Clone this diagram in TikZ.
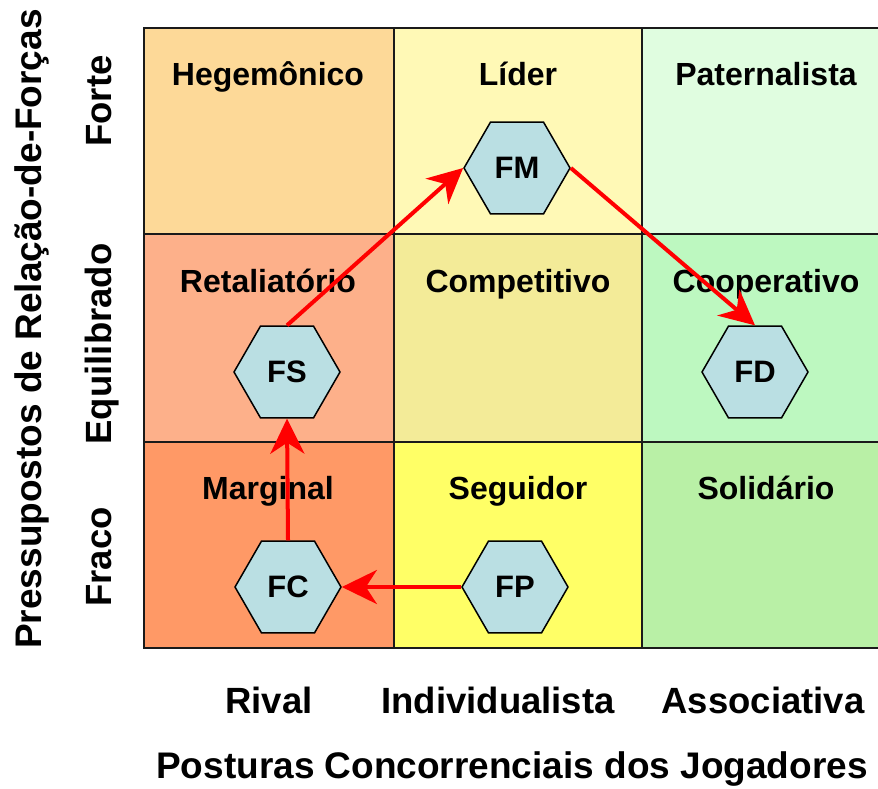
\documentclass[tikz,border=0pt]{standalone}
\usepackage{fontspec}
\setmainfont{Liberation Sans}
\usetikzlibrary{shapes.geometric,arrows.meta}

\definecolor{cHeg}{HTML}{FDD998}
\definecolor{cLid}{HTML}{FFF9B6}
\definecolor{cPat}{HTML}{E0FDE0}
\definecolor{cRet}{HTML}{FDB08A}
\definecolor{cCom}{HTML}{F3EB98}
\definecolor{cCoo}{HTML}{BDF8C0}
\definecolor{cMar}{HTML}{FF9966}
\definecolor{cSeg}{HTML}{FFFF66}
\definecolor{cSol}{HTML}{B9F0A6}
\definecolor{cHex}{HTML}{BADFE3}
\definecolor{cGrid}{HTML}{1A1A1A}

\tikzset{
  cell/.style={draw=cGrid, line width=2pt},
  celltitle/.style={anchor=base, font=\fontsize{32}{36}\selectfont\bfseries, inner sep=0pt},
  axislabel/.style={anchor=base, font=\fontsize{36.5}{40}\selectfont\bfseries, inner sep=0pt},
  axistitle/.style={anchor=base, font=\fontsize{37}{42}\selectfont\bfseries, inner sep=0pt},
  force/.style={regular polygon, regular polygon sides=6, minimum size=106pt,
    inner sep=0pt, draw=black, line width=1.5pt, fill=cHex,
    font=\fontsize{31}{34}\selectfont\bfseries},
  move/.style={draw=red, line width=4pt,
    -{Stealth[length=35pt, width=34pt, inset=11pt, fill=red]}},
}

\begin{document}
\begin{tikzpicture}[x=1pt, y=-1pt]
  \useasboundingbox (0,0) rectangle (878,788);
  \fill[white] (0,0) rectangle (878,788);

  % matrix of postures (columns) versus power relations (rows)
  \filldraw[cell, fill=cHeg] (144,28)  rectangle (394,234);
  \filldraw[cell, fill=cLid] (394,28)  rectangle (642,234);
  \filldraw[cell, fill=cPat] (642,28)  rectangle (882,234);
  \filldraw[cell, fill=cRet] (144,234) rectangle (394,442);
  \filldraw[cell, fill=cCom] (394,234) rectangle (642,442);
  \filldraw[cell, fill=cCoo] (642,234) rectangle (882,442);
  \filldraw[cell, fill=cMar] (144,442) rectangle (394,648);
  \filldraw[cell, fill=cSeg] (394,442) rectangle (642,648);
  \filldraw[cell, fill=cSol] (642,442) rectangle (882,648);

  % cell titles
  \node[celltitle] (tHeg) at (268,85)  {Hegemônico};
  \node[celltitle] (tLid) at (518,85)  {Líder};
  \node[celltitle] (tPat) at (766,85)  {Paternalista};
  \node[celltitle] (tRet) at (268,292) {Retaliatório};
  \node[celltitle] (tCom) at (518,292) {Competitivo};
  \node[celltitle] (tCoo) at (766,292) {Cooperativo};
  \node[celltitle] (tMar) at (268,499) {Marginal};
  \node[celltitle] (tSeg) at (518,499) {Seguidor};
  \node[celltitle] (tSol) at (766,499) {Solidário};

  % forces
  \node[force] (FM) at (517,168) {FM};
  \node[force] (FS) at (287,372) {FS};
  \node[force] (FD) at (755,372) {FD};
  \node[force] (FC) at (288,587) {FC};
  \node[force] (FP) at (515,587) {FP};

  % trajectory
  \draw[move] (FP.west) -- (FC.east);
  \draw[move] (FC.north) -- (FS.south);
  \draw[move] (FS.north) -- (FM.west);
  \draw[move] (FM.east) -- (FD.north);

  % horizontal axis
  \node[axislabel] (xRiv) at (269,713) {Rival};
  \node[axislabel] (xInd) at (498,713) {Individualista};
  \node[axislabel] (xAss) at (763,713) {Associativa};
  \node[axistitle] (xTit) at (512,778) {Posturas Concorrenciais dos Jogadores};

  % vertical axis
  \node[axislabel, rotate=90] (yFor) at (111,101) {Forte};
  \node[axislabel, rotate=90] (yEqu) at (111,344) {Equilibrado};
  \node[axislabel, rotate=90] (yFra) at (111,557) {Fraco};
  \node[axistitle, rotate=90] (yTit) at (41,329) {Pressupostos de Relação-de-Forças};
\end{tikzpicture}
\end{document}
